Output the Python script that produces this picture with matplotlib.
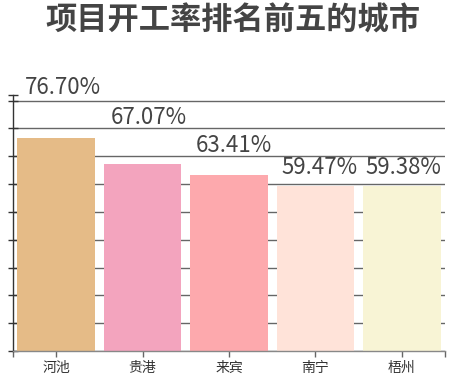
import matplotlib
matplotlib.use("Agg")
import matplotlib.pyplot as plt
from matplotlib.ticker import FixedLocator

plt.rcParams['font.family'] = ['Noto Sans CJK SC', 'DejaVu Sans']

# Data
cities = ['河池', '贵港', '来宾', '南宁', '梧州']
rates = [76.70, 67.07, 63.41, 59.47, 59.38]
value_labels = ['76.70%', '67.07%', '63.41%', '59.47%', '59.38%']
title = '项目开工率排名前五的城市'

# Styles / layout
colors = ['#E5BB87', '#F3A4BE', '#FDA9AD', '#FFE3D9', '#F8F4D5']
label_dx_px = [7, 6, 5, 4, 2]
label_dy_px = [50, 47, 29, 18, 18]

fig = plt.figure(figsize=(4.58, 3.77), dpi=100)
ax = fig.add_axes([13/458, 26/377, 432/458, 256/377])

x = list(range(len(cities)))
bars = ax.bar(x, rates, width=0.9, color=colors, zorder=2)

ax.set_xlim(-0.5, len(cities) - 0.5)
ax.set_ylim(0, 92)

ax.set_yticks(range(0, 100, 10))
ax.yaxis.set_minor_locator(FixedLocator([92]))
ax.set_yticklabels([])
ax.tick_params(axis='y', which='both', direction='inout', length=7, width=1, color='#333333')
ax.grid(axis='y', which='major', color='#666666', linewidth=1.0, zorder=0)
ax.set_axisbelow(True)

ax.set_xticks(x)
ax.set_xticklabels(cities, fontsize=10, color='#333333')
ax.xaxis.set_minor_locator(FixedLocator([-0.5, len(cities) - 0.5]))
ax.tick_params(axis='x', which='both', direction='out', length=4, width=1, color='#666666', pad=3)

for s in ['top', 'right']:
    ax.spines[s].set_visible(False)
ax.spines['left'].set_color('#333333')
ax.spines['left'].set_linewidth(1.0)
ax.spines['bottom'].set_color('#888888')
ax.spines['bottom'].set_linewidth(1.0)

for rect, lab, dx, dy in zip(bars, value_labels, label_dx_px, label_dy_px):
    ax.annotate(lab, xy=(rect.get_x() + rect.get_width() / 2, rect.get_height()),
                xytext=(dx, dy), textcoords='offset pixels',
                ha='center', va='center', fontsize=16, color='#444444', zorder=3)

fig.text(233/458, 1 - 21/377, title, ha='center', va='center',
         fontsize=22.5, fontweight='bold', color='#444444')

fig.savefig('out.png', dpi=100)
